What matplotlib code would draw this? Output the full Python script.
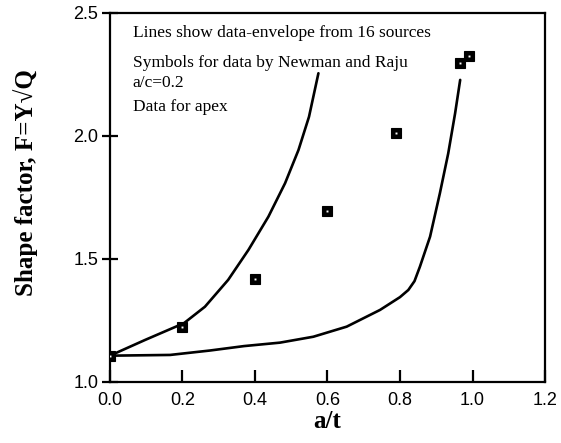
import matplotlib
matplotlib.use("Agg")
import matplotlib.pyplot as plt

# Data
sym_x = [0.0, 0.2, 0.4, 0.6, 0.79, 0.965, 0.99]
sym_y = [1.107, 1.224, 1.42, 1.695, 2.013, 2.298, 2.325]

upper_x = [0.0, 0.097, 0.204, 0.262, 0.326, 0.382, 0.437, 0.483, 0.52, 0.549, 0.575]
upper_y = [1.107, 1.171, 1.239, 1.306, 1.415, 1.537, 1.672, 1.808, 1.943, 2.078, 2.255]

lower_x = [0.0, 0.166, 0.276, 0.37, 0.469, 0.561, 0.653, 0.745, 0.80, 0.823, 0.84, 0.855, 0.883, 0.91, 0.933, 0.952, 0.966]
lower_y = [1.107, 1.11, 1.128, 1.146, 1.16, 1.184, 1.225, 1.293, 1.345, 1.374, 1.41, 1.469, 1.591, 1.767, 1.929, 2.092, 2.228]

notes = ["Lines show data-envelope from 16 sources",
         "Symbols for data by Newman and Raju",
         "a/c=0.2",
         "Data for apex"]
note_y = [2.419, 2.297, 2.215, 2.118]

fig = plt.figure(figsize=(5.61, 4.43), dpi=100)
ax = fig.add_axes([0.196, 0.1377, 0.7755, 0.833])

ax.plot(upper_x, upper_y, color="black", lw=1.9, solid_capstyle="round", solid_joinstyle="round")
ax.plot(lower_x, lower_y, color="black", lw=1.9, solid_capstyle="round", solid_joinstyle="round")
ax.plot(sym_x, sym_y, linestyle="none", marker="s", markersize=6.5,
        markerfacecolor="black", markeredgecolor="black", markeredgewidth=0.8, zorder=3)
ax.plot(sym_x, sym_y, linestyle="none", marker="s", markersize=1.4,
        markerfacecolor="white", markeredgecolor="white", markeredgewidth=0, zorder=4)

ax.set_xlim(0, 1.2)
ax.set_ylim(1.0, 2.5)
ax.set_xticks([0.0, 0.2, 0.4, 0.6, 0.8, 1.0, 1.2])
ax.set_yticks([1.0, 1.5, 2.0, 2.5])
ax.set_xticklabels(["0.0", "0.2", "0.4", "0.6", "0.8", "1.0", "1.2"])
ax.set_yticklabels(["1.0", "1.5", "2.0", "2.5"])
for lab in ax.get_xticklabels() + ax.get_yticklabels():
    lab.set_fontfamily("Liberation Sans")
ax.tick_params(axis="x", direction="in", length=9, width=1.6, labelsize=13, pad=7)
ax.tick_params(axis="y", direction="inout", length=11, width=1.6, labelsize=13, pad=3)
for s in ax.spines.values():
    s.set_linewidth(1.6)

ax.set_xlabel("a/t", fontfamily="Liberation Serif", fontweight="bold", fontsize=18, labelpad=1)
ax.set_ylabel("Shape factor, F=Y\u221aQ", fontfamily="Liberation Serif", fontweight="bold",
              fontsize=18)
ax.yaxis.set_label_coords(-0.166, 0.54)

for t, yy in zip(notes, note_y):
    ax.text(0.063, yy, t, fontfamily="Liberation Serif", fontsize=12.5, va="center", ha="left")

fig.savefig("out.png", dpi=100)
